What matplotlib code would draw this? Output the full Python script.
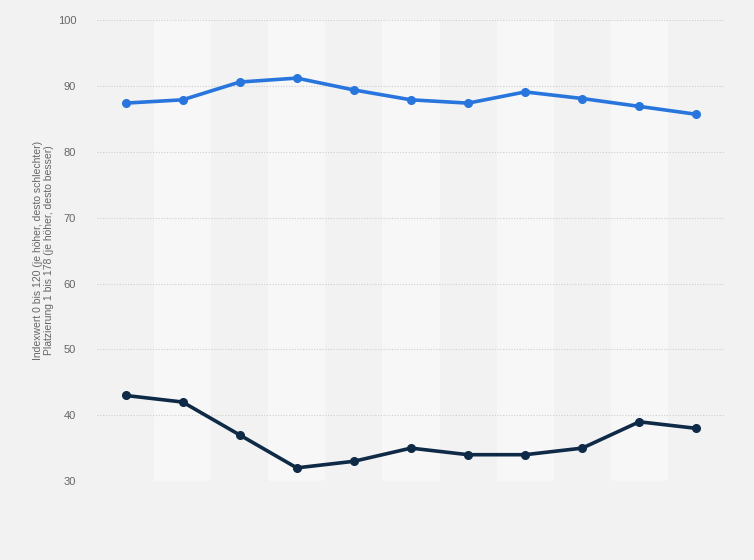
import matplotlib.pyplot as plt

plt.rcParams['font.family'] = ['Liberation Sans', 'DejaVu Sans']

# one entry per year (x-axis labels are not shown in the reference)
positions = list(range(11))
index_values = [87.4, 87.9, 90.6, 91.2, 89.4, 87.9, 87.4, 89.1, 88.1, 86.9, 85.7]
ranking = [43, 42, 37, 32, 33, 35, 34, 34, 35, 39, 38]
y_ticks = [30, 40, 50, 60, 70, 80, 90, 100]

bg = '#f2f2f2'
fig = plt.figure(figsize=(7.54, 5.6), dpi=100, facecolor=bg)
ax = fig.add_axes([0.1286, 0.141, 0.8329, 0.823])
ax.set_facecolor(bg)

# alternating column bands
for i in positions:
    if i % 2 == 1:
        ax.axvspan(i - 0.5, i + 0.5, color='#f7f7f7', zorder=0, lw=0)

for t in y_ticks:
    ax.axhline(t, color='#cfcfcf', lw=0.8, ls=(0, (1, 1.5)), zorder=1)

ax.plot(positions, index_values, color='#2876dd', lw=2.6, marker='o',
        markersize=5.5, zorder=3, clip_on=False)
ax.plot(positions, ranking, color='#0e2a47', lw=2.6, marker='o',
        markersize=5.5, zorder=3, clip_on=False)

ax.set_xlim(-0.5, len(positions) - 0.5)
ax.set_ylim(30, 100)
ax.set_yticks(y_ticks)
ax.set_xticks([])
ax.tick_params(axis='y', length=0, labelsize=8, labelcolor='#666666', pad=15)
for s in ax.spines.values():
    s.set_visible(False)

ax.set_ylabel('Indexwert 0 bis 120 (je höher, desto schlechter)\n'
              'Platzierung 1 bis 178 (je höher, desto besser)',
              fontsize=7.5, color='#666666', linespacing=1.2)
ax.yaxis.set_label_coords(-0.068, 0.5)

fig.savefig('out.png', dpi=100, facecolor=bg)
